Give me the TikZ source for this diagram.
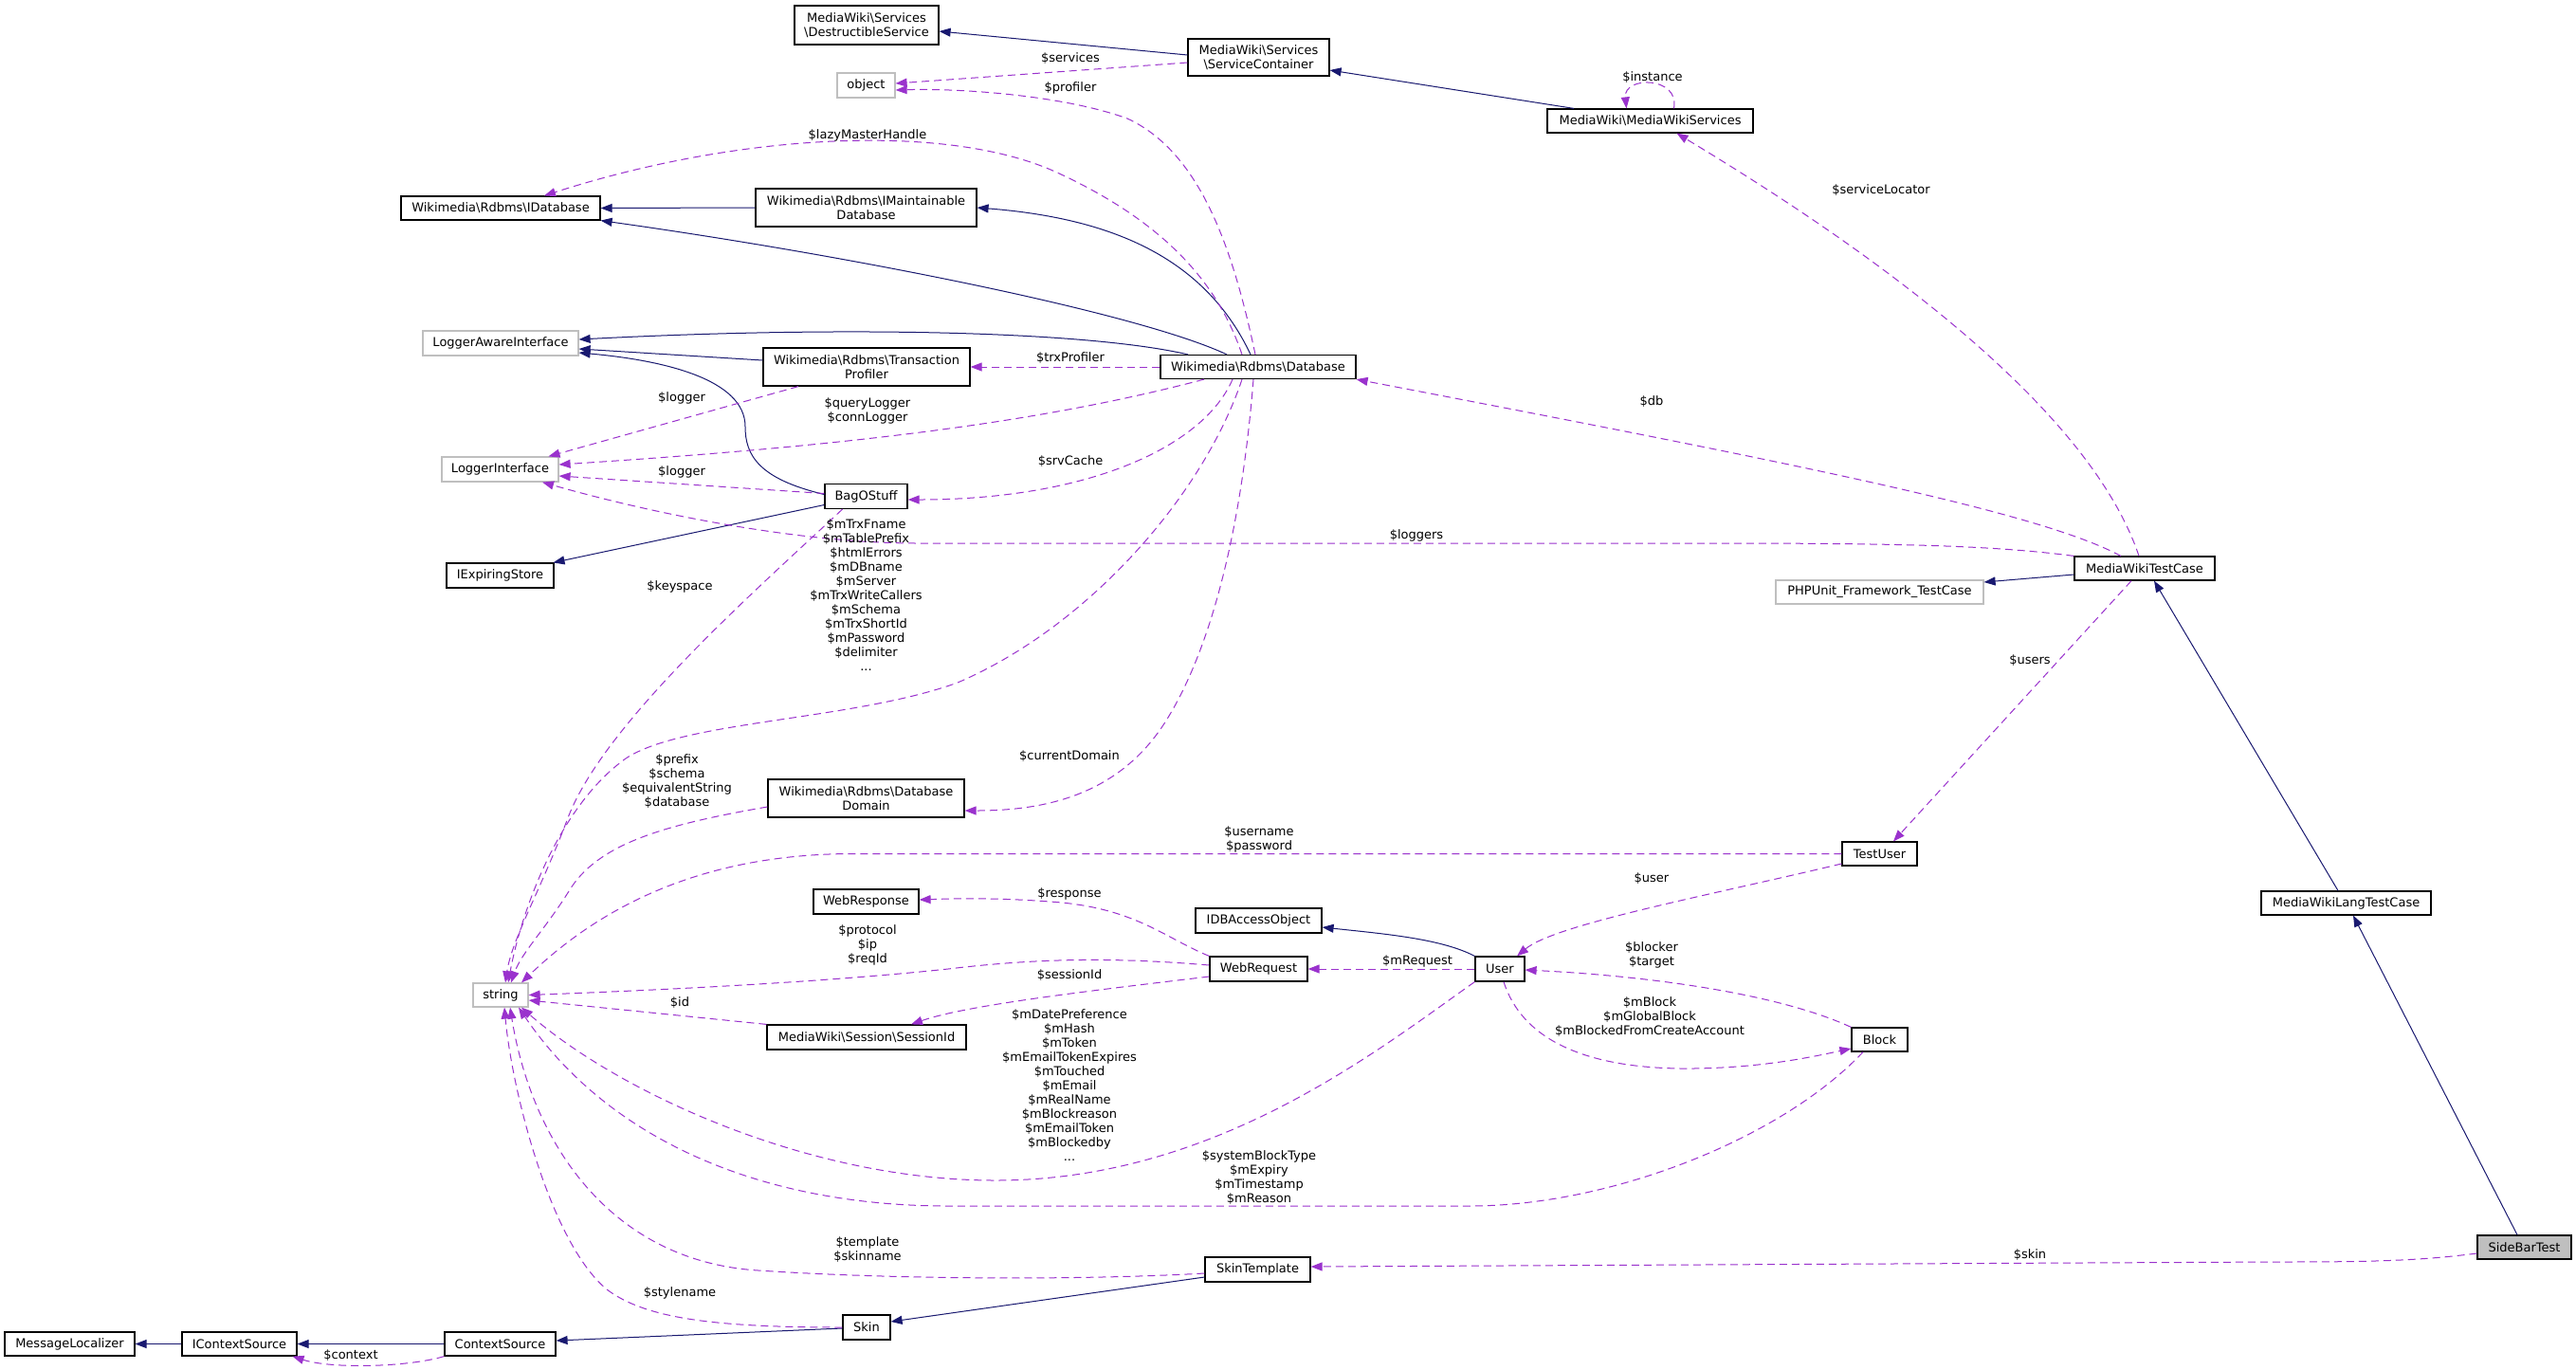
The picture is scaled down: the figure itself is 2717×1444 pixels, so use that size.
\documentclass[tikz,border=0pt]{standalone}
\usepackage{fontspec}
\setmainfont{DejaVu Sans}
\usetikzlibrary{arrows.meta}
\definecolor{inhblue}{HTML}{191970}
\definecolor{usepurple}{HTML}{9A32CD}
\definecolor{extgray}{HTML}{BFBFBF}
\newcommand{\lblfont}{\fontsize{13}{15}\selectfont}
\newcommand{\bs}{\textbackslash}
\tikzset{
  cls/.style={rectangle, draw=black, line width=1.2pt, inner sep=0pt, font=\lblfont, align=center, text=black},
  ext/.style={cls, draw=extgray},
  inh/.style={draw=inhblue, line width=1pt, -{Triangle[length=12pt,width=9pt]}},
  use/.style={draw=usepurple, line width=1pt, dash pattern=on 8pt off 5pt, -{Triangle[length=12pt,width=9pt]}},
  lab/.style={font=\lblfont, align=center, inner sep=0pt, text=black}
}
\begin{document}
\begin{tikzpicture}[x=1pt,y=-1pt]
\fill[white] (0,0) rectangle (2717,1444);
\useasboundingbox (0,0) rectangle (2717,1444);

% ---------- nodes ----------
\node[cls, minimum width=152pt, minimum height=41pt] (ds) at (914,26.5) {MediaWiki\bs Services\\\bs DestructibleService};
\node[ext, minimum width=61pt, minimum height=26pt] (obj) at (913.5,90) {object};
\node[cls, minimum width=149pt, minimum height=39pt] (sc) at (1327.5,60.5) {MediaWiki\bs Services\\\bs ServiceContainer};
\node[cls, minimum width=217pt, minimum height=25pt] (mws) at (1740.5,127.5) {MediaWiki\bs MediaWikiServices};
\node[cls, minimum width=210pt, minimum height=25pt] (idb) at (528,219.5) {Wikimedia\bs Rdbms\bs IDatabase};
\node[cls, minimum width=233pt, minimum height=40pt] (imdb) at (913.5,219) {Wikimedia\bs Rdbms\bs IMaintainable\\Database};
\node[ext, minimum width=164pt, minimum height=26pt] (lai) at (528,362) {LoggerAwareInterface};
\node[cls, minimum width=218pt, minimum height=40pt] (tp) at (914,387) {Wikimedia\bs Rdbms\bs Transaction\\Profiler};
\node[cls, minimum width=206pt, minimum height=25pt] (db) at (1327,387) {Wikimedia\bs Rdbms\bs Database};
\node[ext, minimum width=123pt, minimum height=26pt] (li) at (527.5,495) {LoggerInterface};
\node[cls, minimum width=87pt, minimum height=26pt] (bag) at (913.5,523.5) {BagOStuff};
\node[cls, minimum width=113pt, minimum height=26pt] (ies) at (527.5,607) {IExpiringStore};
\node[cls, minimum width=148pt, minimum height=25pt] (mwtc) at (2262,599.5) {MediaWikiTestCase};
\node[ext, minimum width=219pt, minimum height=25pt] (php) at (1982.5,624.5) {PHPUnit\_Framework\_TestCase};
\node[cls, minimum width=207pt, minimum height=40pt] (dbd) at (913.5,842) {Wikimedia\bs Rdbms\bs Database\\Domain};
\node[cls, minimum width=79pt, minimum height=25pt] (tu) at (1982.5,900.5) {TestUser};
\node[cls, minimum width=179pt, minimum height=25pt] (mwltc) at (2474.5,952.5) {MediaWikiLangTestCase};
\node[cls, minimum width=111pt, minimum height=26pt] (wresp) at (913.5,951) {WebResponse};
\node[cls, minimum width=133pt, minimum height=26pt] (idbao) at (1327.5,971) {IDBAccessObject};
\node[ext, minimum width=58pt, minimum height=25pt] (str) at (528,1049.5) {string};
\node[cls, minimum width=103pt, minimum height=26pt] (wreq) at (1327.5,1022) {WebRequest};
\node[cls, minimum width=52pt, minimum height=26pt] (user) at (1582,1022) {User};
\node[cls, minimum width=210pt, minimum height=26pt] (sid) at (914,1094) {MediaWiki\bs Session\bs SessionId};
\node[cls, minimum width=59pt, minimum height=25pt] (block) at (1982.5,1096.5) {Block};
\node[cls, fill=extgray, minimum width=99pt, minimum height=25pt] (sbt) at (2662.5,1315.5) {SideBarTest};
\node[cls, minimum width=111pt, minimum height=26pt] (st) at (1326.5,1339) {SkinTemplate};
\node[cls, minimum width=50pt, minimum height=26pt] (skin) at (914,1400) {Skin};
\node[cls, minimum width=137pt, minimum height=25pt] (ml) at (73.5,1417.5) {MessageLocalizer};
\node[cls, minimum width=121pt, minimum height=25pt] (ics) at (252.5,1417.5) {IContextSource};
\node[cls, minimum width=117pt, minimum height=25pt] (cs) at (527.5,1417.5) {ContextSource};

% ---------- inheritance ----------
\draw[inh] ([yshift=2.5pt]sc.west) -- ([yshift=-6.5pt]ds.east);
\draw[inh] ([xshift=-80.5pt]mws.north) -- ([yshift=-13.5pt]sc.east);
\draw[inh] (imdb.west) -- (idb.east);
\draw[inh] ([xshift=-33pt]db.north) .. controls (1200,330) and (900,270) .. (idb.south east);
\draw[inh] ([xshift=-8pt]db.north) .. controls (1270,270) and (1170,230) .. (imdb.east);
\draw[inh] ([xshift=-74pt]db.north) .. controls (1150,350) and (900,343) .. ([yshift=4pt]lai.east);
\draw[inh] ([yshift=7pt]tp.west) -- ([yshift=-6pt]lai.east);
\draw[inh] ([yshift=2pt]bag.west) .. controls (800,505) and (786,480) .. (786,450) .. controls (786,400) and (700,380) .. ([yshift=-10pt]lai.east);
\draw[inh] ([yshift=-9pt]bag.west) -- ([xshift=56pt]ies.north);
\draw[inh] ([yshift=-6.5pt]mwtc.west) -- ([yshift=10.5pt]php.east);
\draw[inh] ([xshift=-8.5pt]mwltc.north) -- ([xshift=10pt]mwtc.south);
\draw[inh] ([xshift=-7.5pt]sbt.north) -- ([xshift=7.5pt]mwltc.south);
\draw[inh] (user.north west) .. controls (1520,990) and (1460,985) .. ([yshift=-7pt]idbao.east);
\draw[inh] ([yshift=-8pt]st.west) -- ([yshift=6pt]skin.east);
\draw[inh] ([yshift=-1pt]skin.west) -- ([yshift=3.5pt]cs.east);
\draw[inh] (cs.west) -- (ics.east);
\draw[inh] (ics.west) -- (ml.east);

% ---------- usage ----------
\draw[use] ([yshift=-5.5pt]sc.west) -- ([yshift=2pt]obj.east);
\draw[use] ([xshift=-3pt]db.north) .. controls (1300,260) and (1265,160) .. (1189,125) .. controls (1120,100) and (1010,93) .. ([yshift=-5pt]obj.east);
\draw[use] ([xshift=-17pt]db.north) .. controls (1285,300) and (1230,235) .. (1115,182) .. controls (1000,129) and (780,140) .. ([xshift=46pt]idb.north);
\draw[use] (db.west) -- (tp.east);
\draw[use] ([xshift=-57pt]db.south) .. controls (1100,445) and (900,470) .. ([yshift=5pt]li.east);
\draw[use] ([xshift=-72pt]tp.south) -- ([xshift=51pt]li.north);
\draw[use] ([yshift=3pt]bag.west) -- ([yshift=-7pt]li.east);
\draw[use] ([xshift=-27pt]db.south) .. controls (1270,470) and (1150,527) .. ([yshift=-3.5pt]bag.east);
\draw[use] ([xshift=-17pt]db.south) .. controls (1270,520) and (1150,660) .. (1010,720) .. controls (900,760) and (720,760) .. (660,800) .. controls (590,850) and (550,960) .. ([xshift=8pt]str.north);
\draw[use] ([xshift=-25pt]bag.south) .. controls (800,620) and (640,760) .. (600,860) .. controls (570,940) and (540,990) .. ([xshift=5pt]str.north);
\draw[use] ([yshift=-9pt]dbd.west) .. controls (700,870) and (630,890) .. (600,940) .. controls (575,980) and (550,1005) .. ([xshift=11pt]str.north);
\draw[use] ([xshift=-5pt]db.south) .. controls (1310,550) and (1280,680) .. (1230,760) .. controls (1180,840) and (1100,855) .. ([yshift=-13pt]dbd.east);
\draw[use] ([xshift=-25pt]mwtc.north) .. controls (2150,540) and (1900,490) .. (db.south east);
\draw[use] ([xshift=-6pt]mwtc.north) .. controls (2200,420) and (1950,250) .. ([xshift=28pt]mws.south);
\draw[use] ([xshift=25pt]mws.north) .. controls (1772,80) and (1712,80) .. ([xshift=-25pt]mws.north);
\draw[use] (mwtc.north west) .. controls (2100,575) and (2000,573) .. (1800,573) -- (968,573) .. controls (850,573) and (700,545) .. ([xshift=44.5pt]li.south);
\draw[use] ([xshift=-14pt]mwtc.south) -- ([xshift=14.5pt]tu.north);
\draw[use] (tu.west) -- (900,900.5) .. controls (750,900.5) and (640,950) .. ([xshift=22pt]str.north);
\draw[use] ([yshift=-10.5pt]tu.west) .. controls (1800,945) and (1640,975) .. ([xshift=18pt]user.north);
\draw[use] (wreq.north west) .. controls (1230,990) and (1200,960) .. (1120,952) .. controls (1050,946) and (1000,948) .. ([yshift=2pt]wresp.east);
\draw[use] ([yshift=4pt]wreq.west) .. controls (1180,1010) and (1100,1010) .. (1000,1022) .. controls (850,1038) and (650,1046) .. (str.east);
\draw[use] ([yshift=-8pt]wreq.west) .. controls (1150,1045) and (1020,1060) .. ([xshift=47pt]sid.north);
\draw[use] (user.west) -- (wreq.east);
\draw[use] (sid.north west) -- ([yshift=-5.5pt]str.east);
\draw[use] (user.south west) .. controls (1450,1110) and (1280,1245) .. (1050,1245) .. controls (850,1245) and (650,1150) .. ([xshift=22pt]str.south);
\draw[use] (block.north west) .. controls (1880,1050) and (1750,1030) .. ([yshift=-1pt]user.east);
\draw[use] ([xshift=4pt]user.south) .. controls (1610,1110) and (1700,1128) .. (1786,1127) .. controls (1860,1126) and (1910,1115) .. ([yshift=-9.5pt]block.west);
\draw[use] ([xshift=-17.5pt]block.south) .. controls (1880,1200) and (1700,1272) .. (1550,1272) -- (1000,1272) .. controls (800,1272) and (640,1200) .. ([xshift=19pt]str.south);
\draw[use] ([yshift=-4pt]st.west) .. controls (1150,1350) and (950,1350) .. (800,1340) .. controls (640,1330) and (560,1200) .. ([xshift=10pt]str.south);
\draw[use] (skin.west) .. controls (750,1400) and (680,1390) .. (640,1360) .. controls (580,1310) and (540,1150) .. ([xshift=4pt]str.south);
\draw[use] (cs.south west) .. controls (430,1442) and (350,1444) .. ([xshift=56pt]ics.south);
\draw[use] ([yshift=-6.5pt]sbt.west) .. controls (2550,1330) and (2500,1331) .. (2400,1331) -- ([yshift=3pt]st.east);

% ---------- labels ----------
\node[lab] (l1) at (1129,62) {\$services};
\node[lab] (l2) at (1129,93) {\$profiler};
\node[lab] (l3) at (915,143) {\$lazyMasterHandle};
\node[lab] (l4) at (1129,378) {\$trxProfiler};
\node[lab] (l5) at (915,433.5) {\$queryLogger\\\$connLogger};
\node[lab] (l6) at (719,420) {\$logger};
\node[lab] (l7) at (719,498) {\$logger};
\node[lab] (l8) at (1129,487) {\$srvCache};
\node[lab] (l9) at (913.5,628) {\$mTrxFname\\\$mTablePrefix\\\$htmlErrors\\\$mDBname\\\$mServer\\\$mTrxWriteCallers\\\$mSchema\\\$mTrxShortId\\\$mPassword\\\$delimiter\\...};
\node[lab] (l10) at (717,619) {\$keyspace};
\node[lab] (l11) at (1494,565) {\$loggers};
\node[lab] (l12) at (1742,424) {\$db};
\node[lab] (l13) at (1984,201) {\$serviceLocator};
\node[lab] (l14) at (1743,82) {\$instance};
\node[lab] (l15) at (2141,697) {\$users};
\node[lab] (l16) at (1128,798) {\$currentDomain};
\node[lab] (l17) at (714,824) {\$prefix\\\$schema\\\$equivalentString\\\$database};
\node[lab] (l18) at (1328,885) {\$username\\\$password};
\node[lab] (l19) at (1742,927) {\$user};
\node[lab] (l20) at (1128,943) {\$response};
\node[lab] (l21) at (915,997) {\$protocol\\\$ip\\\$reqId};
\node[lab] (l22) at (1128,1028) {\$sessionId};
\node[lab] (l23) at (1495,1014) {\$mRequest};
\node[lab] (l24) at (717,1057) {\$id};
\node[lab] (l25) at (1742,1007) {\$blocker\\\$target};
\node[lab] (l26) at (1740,1072) {\$mBlock\\\$mGlobalBlock\\\$mBlockedFromCreateAccount};
\node[lab] (l27) at (1128,1145) {\$mDatePreference\\\$mHash\\\$mToken\\\$mEmailTokenExpires\\\$mTouched\\\$mEmail\\\$mRealName\\\$mBlockreason\\\$mEmailToken\\\$mBlockedby\\...};
\node[lab] (l28) at (1328,1242) {\$systemBlockType\\\$mExpiry\\\$mTimestamp\\\$mReason};
\node[lab] (l29) at (915,1317.5) {\$template\\\$skinname};
\node[lab] (l30) at (717,1364) {\$stylename};
\node[lab] (l31) at (370,1429) {\$context};
\node[lab] (l32) at (2141,1323) {\$skin};
\end{tikzpicture}
\end{document}
